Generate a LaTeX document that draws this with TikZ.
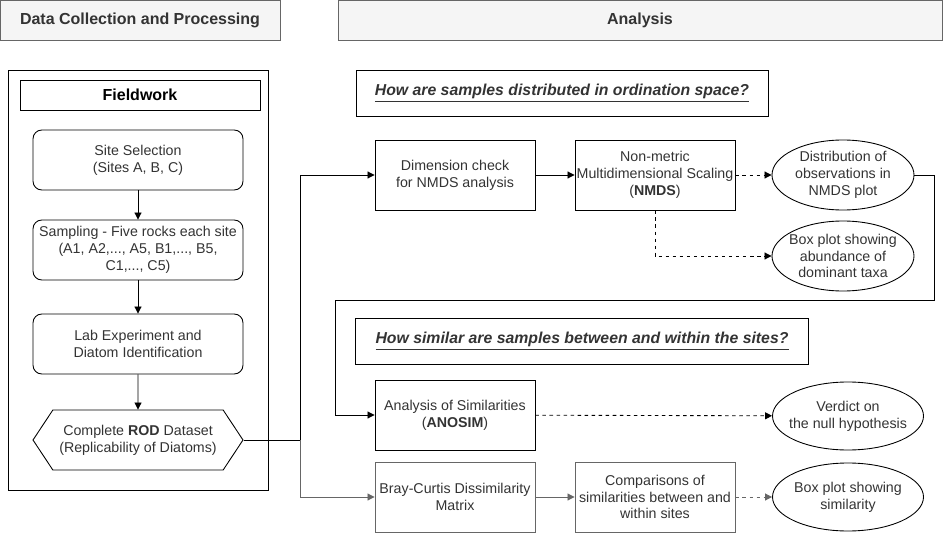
\documentclass[tikz,border=0pt]{standalone}
\usepackage{fontspec}
\setmainfont{Liberation Sans}
\usetikzlibrary{shapes.geometric, shapes.symbols, arrows.meta}

\definecolor{headfill}{HTML}{F5F5F5}
\definecolor{headline}{HTML}{666666}
\definecolor{txt}{HTML}{333333}
\newcommand{\pu}{0.02cm}

\begin{document}
\begin{tikzpicture}[x=0.02cm, y=-0.02cm, line width=0.5pt,
  every node/.style={font=\fontsize{8.1}{9.6}\selectfont, text=txt, align=center, inner sep=0pt},
  headbox/.style={draw=headline, fill=headfill, font=\fontsize{9.1}{11}\selectfont\bfseries},
  titlebox/.style={draw, text=black, font=\fontsize{9.1}{11}\selectfont\bfseries, minimum width=240*\pu, minimum height=30*\pu},
  fieldbox/.style={draw, rounded corners=5pt, minimum width=210*\pu, minimum height=60*\pu},
  askbox/.style={draw, font=\fontsize{9}{11}\selectfont\bfseries\itshape, minimum height=46*\pu},
  procbox/.style={draw, minimum width=160*\pu, minimum height=70*\pu},
  result/.style={draw, ellipse, minimum width=142*\pu, minimum height=70*\pu, inner xsep=-10*\pu},
  wideresult/.style={result, minimum width=151*\pu, minimum height=68*\pu},
  arr/.style={-{Triangle[length=4pt,width=4pt]}},
  darr/.style={arr, dash pattern=on 2pt off 2pt}]
\useasboundingbox (0,0) rectangle (944,534);

% Headers
\node[headbox, minimum width=280*\pu, minimum height=40*\pu] (headdata) at (140,20) {Data Collection and Processing};
\node[headbox, minimum width=604*\pu, minimum height=40*\pu] (headana) at (640,20) {Analysis};

% Fieldwork
\draw (8,70) rectangle (268,490);
\node[titlebox] (field) at (140,95) {Fieldwork};
\node[fieldbox] (site) at (138,160) {Site Selection\\(Sites A, B, C)};
\node[fieldbox] (sampling) at (138,250) {Sampling - Five rocks each site\\(A1, A2,..., A5, B1,..., B5,\\C1,..., C5)};
\node[fieldbox] (lab) at (138,344) {Lab Experiment and\\Diatom Identification};
\node[draw, signal, signal to=west and east, signal pointer angle=113,
  minimum width=210*\pu, minimum height=60*\pu] (rod) at (138,440)
  {Complete \textbf{ROD} Dataset\\(Replicability of Diatoms)};

\draw[arr] (site) -- (sampling);
\draw[arr] (sampling) -- (lab);
\draw[arr] (lab) -- (rod);

% Ordination
\node[askbox, minimum width=412*\pu] (askord) at (562,93) {\underline{How are samples distributed in ordination space?}};
\node[procbox] (dimcheck) at (455,175) {Dimension check\\for NMDS analysis};
\node[procbox] (nmds) at (655,175) {Non-metric\\Multidimensional Scaling\\(\textbf{NMDS})};
\node[result] (distr) at (843,175) {Distribution of\\observations in\\NMDS plot};
\node[result] (abund) at (843,256) {Box plot showing\\abundance of\\dominant taxa};

% Similarity
\node[askbox, minimum width=453*\pu] (asksim) at (582,341) {\underline{How similar are samples between and within the sites?}};
\node[procbox] (anosim) at (455,415) {Analysis of Similarities\\(\textbf{ANOSIM})};
\node[wideresult] (verdict) at (848,416) {Verdict on\\the null hypothesis};
\node[procbox, draw=headline] (bray) at (455,497) {Bray-Curtis Dissimilarity\\Matrix};
\node[procbox, draw=headline] (compar) at (655,497) {Comparisons of\\similarities between and\\within sites};
\node[wideresult] (boxsim) at (848,497) {Box plot showing\\similarity};

% Connectors
\coordinate (split) at (300,440);
\coordinate (loopR) at (934,300);
\coordinate (loopL) at (335,300);
\draw (rod.east) -- (split);
\draw[arr] (split) |- (dimcheck.west);
\draw[arr, headline] (split) |- (bray.west);
\draw[arr] (dimcheck) -- (nmds);
\draw[darr] (nmds) -- (distr);
\draw[darr] (nmds.south) |- (abund.west);
\draw[arr] (distr.east) -| (loopR) -- (loopL) |- (anosim.west);
\draw[darr] (anosim) -- (verdict);
\draw[arr, headline] (bray) -- (compar);
\draw[darr, headline] (compar) -- (boxsim);
\end{tikzpicture}
\end{document}
